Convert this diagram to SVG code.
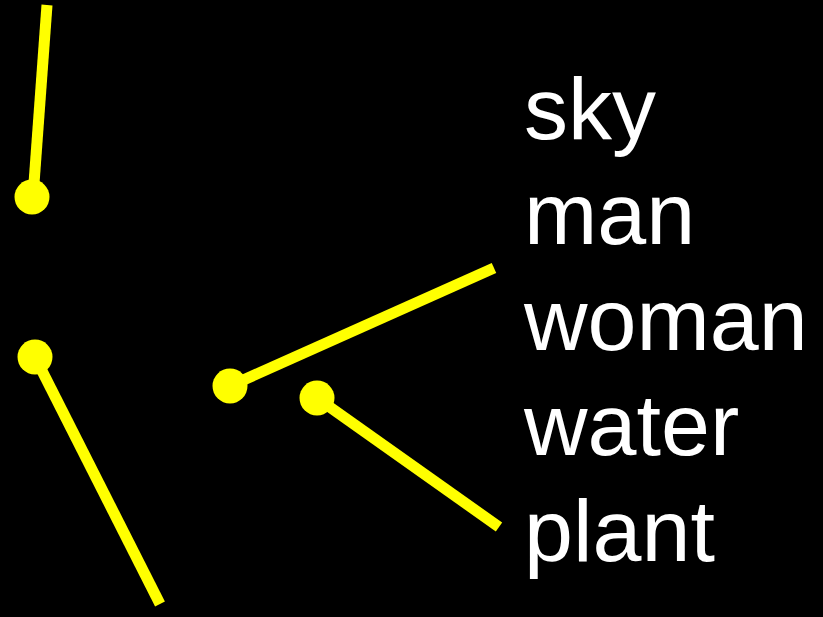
<svg xmlns="http://www.w3.org/2000/svg" width="823" height="617" viewBox="0 0 823 617">
<style>
.ln{stroke:#ffff00;stroke-width:11;fill:none;stroke-linecap:butt}
.dot{fill:#ffff00}
.lbl{font-family:"Liberation Sans",Arial,sans-serif;font-size:88px;fill:#ffffff}
</style>
<rect width="823" height="617" fill="#000000"/>
<g id="connectors">
<line class="ln" x1="47" y1="5" x2="33" y2="197"/>
<line class="ln" x1="35" y1="357" x2="160" y2="604"/>
<line class="ln" x1="230" y1="386" x2="494" y2="268"/>
<line class="ln" x1="317" y1="398" x2="499" y2="527"/>
</g>
<g id="dot1"><circle class="dot" cx="32" cy="197" r="17.5"/></g>
<g id="dot2"><circle class="dot" cx="35" cy="357" r="17.5"/></g>
<g id="dot3"><circle class="dot" cx="230" cy="386" r="17.5"/></g>
<g id="dot4"><circle class="dot" cx="317" cy="398" r="17.5"/></g>
<g id="labels">
<text class="lbl" x="524" y="139">sky</text>
<text class="lbl" x="524" y="244">man</text>
<text class="lbl" x="524" y="350">woman</text>
<text class="lbl" x="524" y="455">water</text>
<text class="lbl" x="524" y="561">plant</text>
</g>
</svg>
